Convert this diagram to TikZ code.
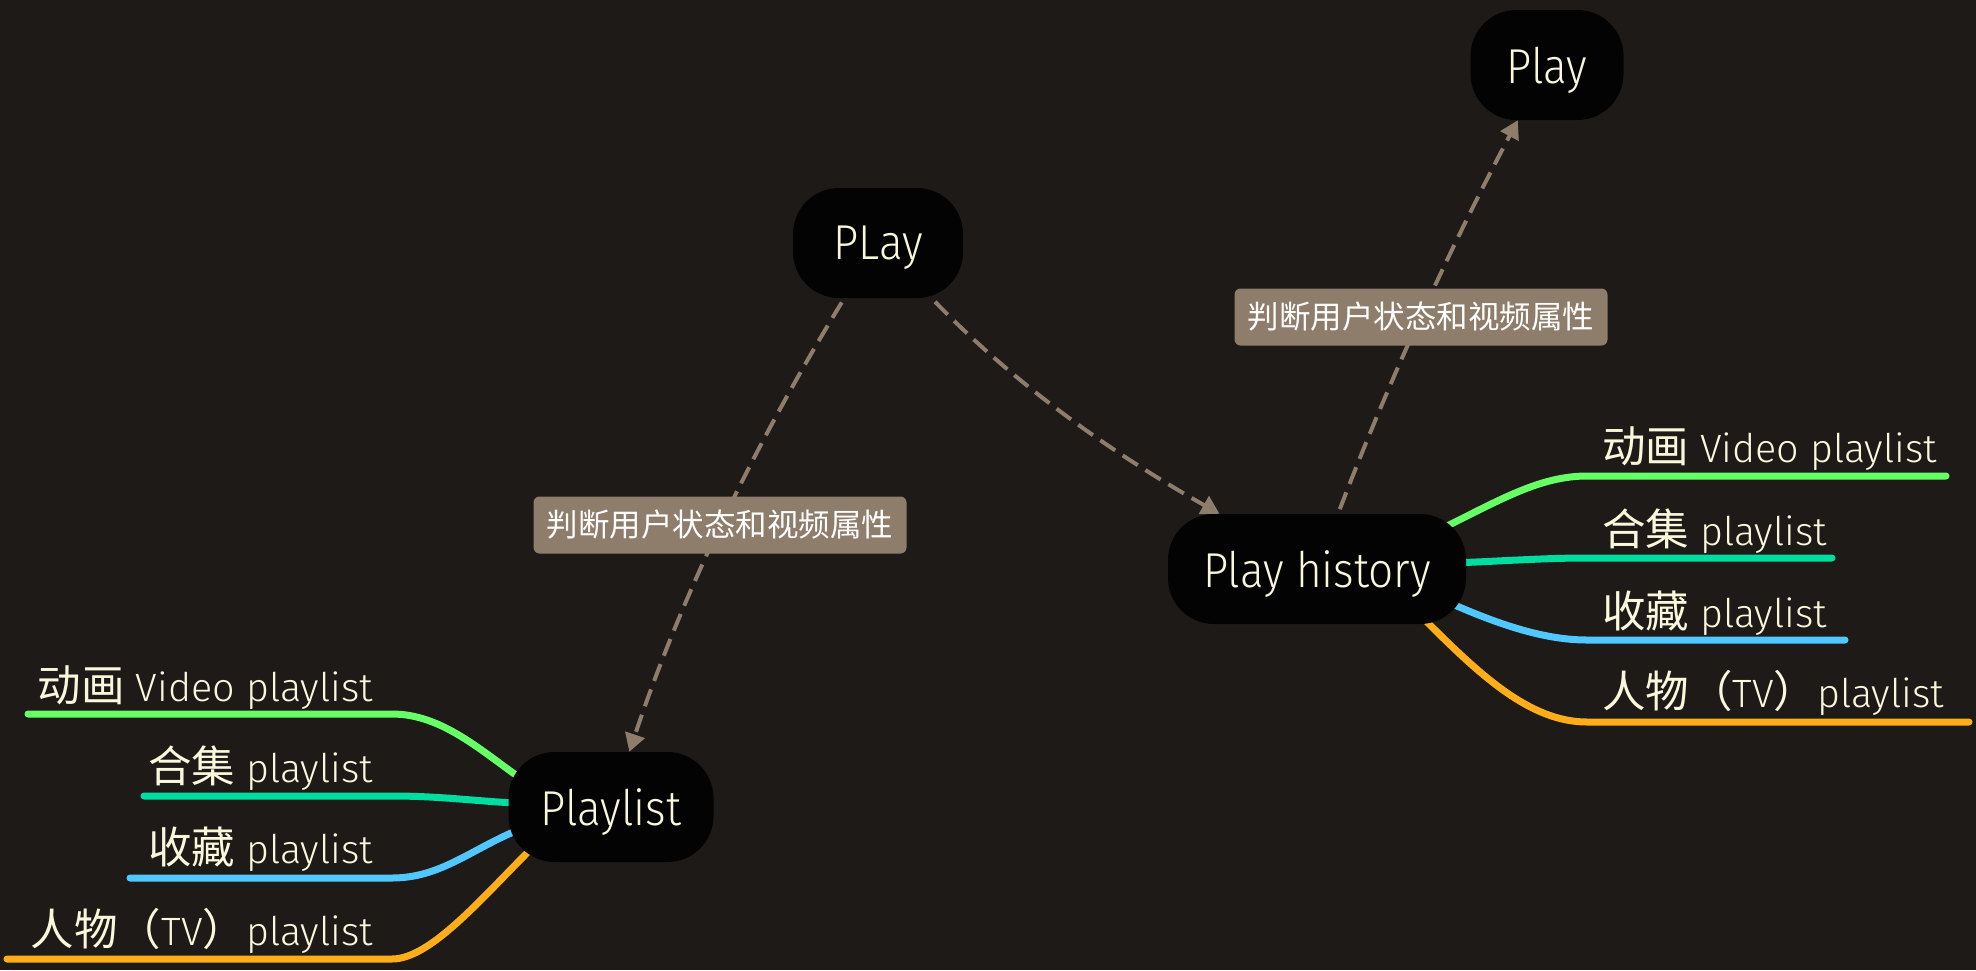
\documentclass[tikz,border=0pt]{standalone}
\usepackage{fontspec}
\setmainfont{Fira Sans Light}
\newfontfamily\topicfont{Fira Sans Light}[FakeStretch=0.9]
\newfontfamily\cjk{Noto Sans CJK SC}
\usetikzlibrary{arrows.meta}
\pgfdeclarelayer{bg}
\pgfdeclarelayer{edges}
\pgfsetlayers{bg,edges,main}
\definecolor{bgc}{HTML}{1E1A17}
\definecolor{nodefill}{HTML}{030303}
\definecolor{cream}{HTML}{FAF8DC}
\definecolor{tan}{HTML}{8E7D6A}
\definecolor{cgreen}{HTML}{66FF66}
\definecolor{cteal}{HTML}{00DDA0}
\definecolor{cblue}{HTML}{50C8FF}
\definecolor{corange}{HTML}{FFAE1A}
\newcommand\zh[1]{{\cjk\fontsize{43.5}{46}\selectfont #1}}
\tikzset{
  topic/.style={fill=nodefill, rounded corners=46pt, minimum height=110pt, inner sep=0pt, text=cream, text depth=0pt, font=\topicfont\fontsize{49}{52}\selectfont},
  elabel/.style={fill=tan, rounded corners=6pt, minimum height=57pt, minimum width=373pt, inner sep=0pt, text=white, font=\cjk\fontsize{31.5}{34}\selectfont},
  leaf/.style={text=cream, inner sep=0pt, font=\fontsize{39.5}{44}\selectfont},
  rel/.style={draw=tan, line width=4pt, dash pattern=on 18pt off 9pt, -{Triangle[length=18pt,width=20pt]}},
  branch/.style={line width=7pt, line cap=round}
}
\begin{document}
\begin{tikzpicture}[x=1pt,y=-1pt]
\useasboundingbox (0,0) rectangle (1976,970);
\begin{pgfonlayer}{bg}
\fill[bgc] (0,0) rectangle (1976,970);
\end{pgfonlayer}

% topics
\node[topic, minimum width=170pt] (play0) at (878,243) {PLay};
\node[topic, minimum width=153pt] (play1) at (1547,65) {Play};
\node[topic, minimum width=298pt] (hist) at (1317,569) {Play history};
\node[topic, minimum width=205pt] (pl) at (611,807) {Playlist};

% relation labels
\node[elabel] (lab1) at (720,525) {判断用户状态和视频属性};
\node[elabel] (lab2) at (1421,317) {判断用户状态和视频属性};

% leaf labels left
\node[leaf, anchor=base east] (la) at (373,701) {\zh{动画} Video playlist};
\node[leaf, anchor=base east] (lb) at (373,782) {\zh{合集} playlist};
\node[leaf, anchor=base east] (lc) at (373,863) {\zh{收藏} playlist};
\node[leaf, anchor=base east] (ld) at (373,945) {\zh{人物（}TV\zh{）}playlist};
% leaf labels right
\node[leaf, anchor=base west] (ra) at (1602,462) {\zh{动画} Video playlist};
\node[leaf, anchor=base west] (rb) at (1602,545) {\zh{合集} playlist};
\node[leaf, anchor=base west] (rc) at (1602,627) {\zh{收藏} playlist};
\node[leaf, anchor=base west] (rd) at (1602,707) {\zh{人物（}TV\zh{）}playlist};

% branch coordinates left
\coordinate (lap) at (520,778); \coordinate (lab) at (392,714); \coordinate (lae) at (28,714);
\coordinate (lbp) at (515,803); \coordinate (lbb) at (392,796); \coordinate (lbe) at (144,796);
\coordinate (lcp) at (518,830); \coordinate (lcb) at (392,878); \coordinate (lce) at (130,878);
\coordinate (ldp) at (530,850); \coordinate (ldb) at (392,959); \coordinate (lde) at (7,959);
% branch coordinates right
\coordinate (rap) at (1445,527); \coordinate (rab) at (1587,476); \coordinate (rae) at (1946,476);
\coordinate (rbp) at (1455,563); \coordinate (rbb) at (1587,558); \coordinate (rbe) at (1832,558);
\coordinate (rcp) at (1450,603); \coordinate (rcb) at (1587,640); \coordinate (rce) at (1845,640);
\coordinate (rdp) at (1425,620); \coordinate (rdb) at (1587,722); \coordinate (rde) at (1969,722);

\begin{pgfonlayer}{edges}
% branches
\draw[branch, cgreen]  (pl.center) -- (lap) .. controls (478,748) and (440,714) .. (lab) -- (lae);
\draw[branch, cteal]   (pl.center) -- (lbp) .. controls (475,801) and (440,796) .. (lbb) -- (lbe);
\draw[branch, cblue]   (pl.center) -- (lcp) .. controls (470,850) and (440,878) .. (lcb) -- (lce);
\draw[branch, corange] (pl.center) -- (ldp) .. controls (480,900) and (430,959) .. (ldb) -- (lde);
\draw[branch, cgreen]  (hist.center) -- (rap) .. controls (1500,500) and (1540,476) .. (rab) -- (rae);
\draw[branch, cteal]   (hist.center) -- (rbp) .. controls (1520,560) and (1550,558) .. (rbb) -- (rbe);
\draw[branch, cblue]   (hist.center) -- (rcp) .. controls (1500,625) and (1545,640) .. (rcb) -- (rce);
\draw[branch, corange] (hist.center) -- (rdp) .. controls (1480,675) and (1530,722) .. (rdb) -- (rde);
% relations
\draw[rel, shorten <=5pt] (play0) .. controls (751,451) and (680,600) .. (pl);
\draw[rel, shorten <=5pt] (play0) .. controls (1011,380) and (1103,448) .. (hist);
\draw[rel, shorten <=5pt] (hist) .. controls (1388,383) and (1447,254) .. (play1);
\end{pgfonlayer}
\end{tikzpicture}
\end{document}
